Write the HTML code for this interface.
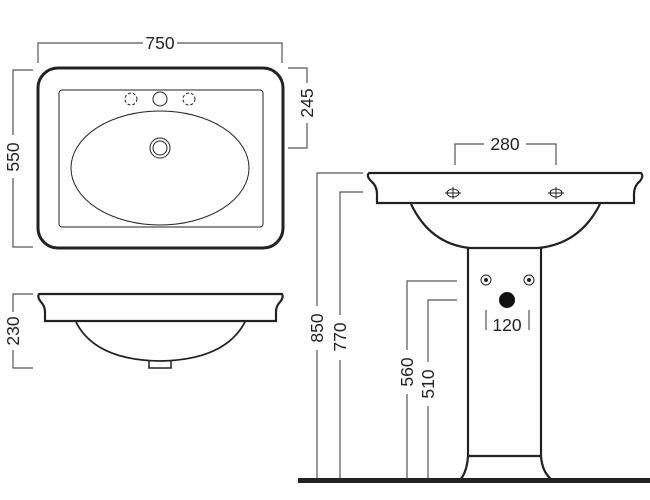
<!DOCTYPE html>
<html><head><style>html,body{margin:0;padding:0;background:#fff}svg{display:block}text{font-family:"Liberation Sans",sans-serif;font-size:17.5px;fill:#222}</style></head>
<body>
<svg width="650" height="500" viewBox="0 0 650 500">
<g fill="none" stroke="#555" stroke-width="1.2">
<path d="M38 63V43H143M177 43H282V63"/>
<path d="M33 70H13V135M13 178V247H33"/>
<path d="M288 68H307V83M307 123V148H288"/>
<path d="M33 294H13V312M13 350V368H33"/>
<path d="M455 165V144H484M526 144H556V165"/>
<path d="M486 310V330M529 310V330"/>
<path d="M363 173H317V306M317 350V480"/>
<path d="M363 192H340V315M340 360V480"/>
<path d="M457 281H407V350M407 394V480"/>
<path d="M457 300H428V362M428 406V480"/>
</g>
<text x="160" y="49" text-anchor="middle">750</text>
<text transform="translate(19,157) rotate(-90)" text-anchor="middle">550</text>
<text transform="translate(313,103) rotate(-90)" text-anchor="middle">245</text>
<text transform="translate(19,331) rotate(-90)" text-anchor="middle">230</text>
<text x="505" y="150" text-anchor="middle">280</text>
<text x="507" y="331" text-anchor="middle">120</text>
<text transform="translate(323,328) rotate(-90)" text-anchor="middle">850</text>
<text transform="translate(346,337) rotate(-90)" text-anchor="middle">770</text>
<text transform="translate(413,372) rotate(-90)" text-anchor="middle">560</text>
<text transform="translate(434,384) rotate(-90)" text-anchor="middle">510</text>

<g fill="none" stroke="#222">
<rect x="38" y="68" width="245" height="180" rx="20" stroke-width="3"/>
<rect x="59" y="90" width="204" height="137" rx="3" stroke-width="1"/>
<ellipse cx="160" cy="168" rx="89" ry="57" stroke-width="1"/>
<circle cx="160" cy="148" r="10" stroke-width="1"/>
<circle cx="160" cy="148" r="7" stroke-width="1"/>
<circle cx="160" cy="99" r="7" stroke-width="1"/>
<circle cx="131" cy="99" r="6" stroke-width="1" stroke-dasharray="3 2"/>
<circle cx="189" cy="99" r="6" stroke-width="1" stroke-dasharray="3 2"/>
<path d="M39 294H282Q284 297 280 302Q276 306 276 312V321H45V312Q45 306 41 302Q37 297 39 294Z" stroke-width="2.2"/>
<path d="M76 322Q95 360 160 361Q225 360 245 322" stroke-width="1.8"/>
<path d="M149 361V368H171V361" stroke-width="1.5"/>
<path d="M369 173H641Q644 176 640 181Q634 186 634 194V203H377V194Q377 186 371 181Q366 176 369 173Z" stroke-width="2.2"/>
<path d="M411 204Q430 244 470 248H538Q580 244 600 204" stroke-width="2.2"/>
<path d="M468 248V456M541 248V456M468 456H541M468 456Q467 472 460 480M541 456Q542 472 552 480" stroke-width="2.2"/>
<g stroke-width="1"><ellipse cx="453" cy="193" rx="6" ry="4"/><path d="M445 193H461M453 187V199"/>
<ellipse cx="556" cy="193" rx="6" ry="4"/><path d="M548 193H564M556 187V199"/>
<circle cx="486" cy="280" r="5"/><circle cx="529" cy="280" r="5"/></g>
</g>
<circle cx="486" cy="280" r="2" fill="#222"/><circle cx="529" cy="280" r="2" fill="#222"/>
<circle cx="507" cy="300" r="8" fill="#111"/>
<rect x="298" y="478" width="352" height="5" fill="#222"/>
</svg>
</body></html>
